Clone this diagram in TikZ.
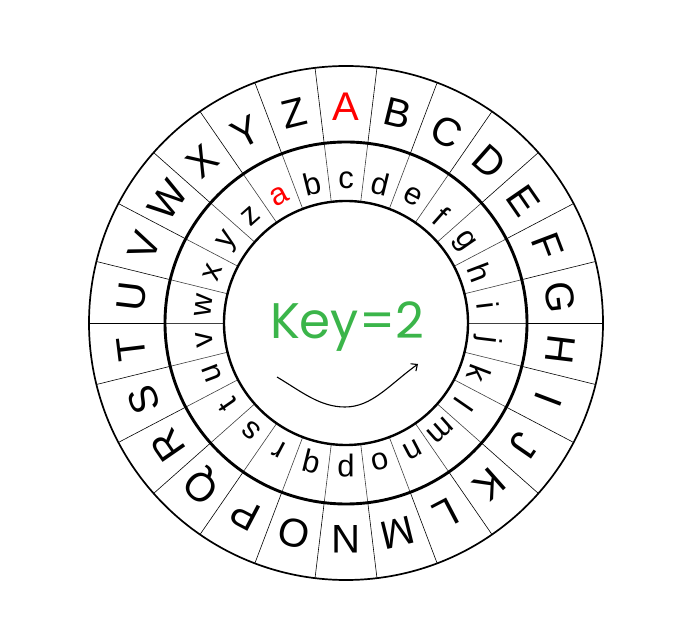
\documentclass[tikz,border=0pt]{standalone}
\usepackage{fontspec}
\setmainfont{Liberation Sans}
\newfontfamily\keyfont{Poppins}
\usetikzlibrary{arrows.meta}
\definecolor{keygreen}{RGB}{59,181,74}
\begin{document}
\begin{tikzpicture}[x=1pt,y=1pt,
  upper/.style={font=\fontsize{40}{40}\selectfont, inner sep=0pt},
  lower/.style={font=\fontsize{31}{31}\selectfont, inner sep=0pt},
  divider/.style={line width=0.6pt},
  ring/.style={line width=#1},
  keytext/.style={font=\keyfont\fontsize{50}{50}\selectfont, text=keygreen, inner sep=0pt, anchor=base},
  turn/.style={line width=1.1pt, -{Straight Barb[length=5pt,width=9pt]}}
]
\useasboundingbox (0,0) rectangle (686,643);
\coordinate (C) at (346,320);
\begin{scope}[shift={(C)}]
  % dividers
  \foreach \j in {0,...,25} {
    \pgfmathsetmacro\d{90+180/26+\j*360/26}
    \draw[divider] (\d:181) -- (\d:257);
    \draw[divider, black!75] (\d:122) -- (\d:181);
  }
  % circles
  \draw[ring=1.7pt] (0,0) circle (257);
  \draw[ring=2.9pt] (0,0) circle (181);
  \draw[ring=2.4pt] (0,0) circle (122);
  % outer letters
  \foreach \L [count=\i from 0] in {{\color{red}A},B,C,D,E,F,G,H,I,J,K,L,M,N,O,P,Q,R,S,T,U,V,W,X,Y,Z} {
    \pgfmathsetmacro\ang{90-\i*360/26}
    \node[upper, rotate=\ang-90] (U\i) at (\ang:216) {\L};
  }
  % inner letters
  \foreach \L [count=\k from 0] in {{\color{red}a},b,c,d,e,f,g,h,i,j,k,l,m,n,o,p,q,r,s,t,u,v,w,x,y,z} {
    \pgfmathsetmacro\ang{90-(\k-2)*360/26}
    \node[lower, rotate=\ang-90] (L\k) at (\ang:143) {\L};
  }
\end{scope}
\node[keytext] (key) at (347,304) {Key=2};
\coordinate (arrS) at (277,266);
\coordinate (arrB) at (345,236);
\coordinate (arrE) at (418,279);
\draw[turn] (arrS) .. controls (302,251) and (320,236) .. (arrB)
  .. controls (372,236) and (389,258) .. (arrE);
\end{tikzpicture}
\end{document}
